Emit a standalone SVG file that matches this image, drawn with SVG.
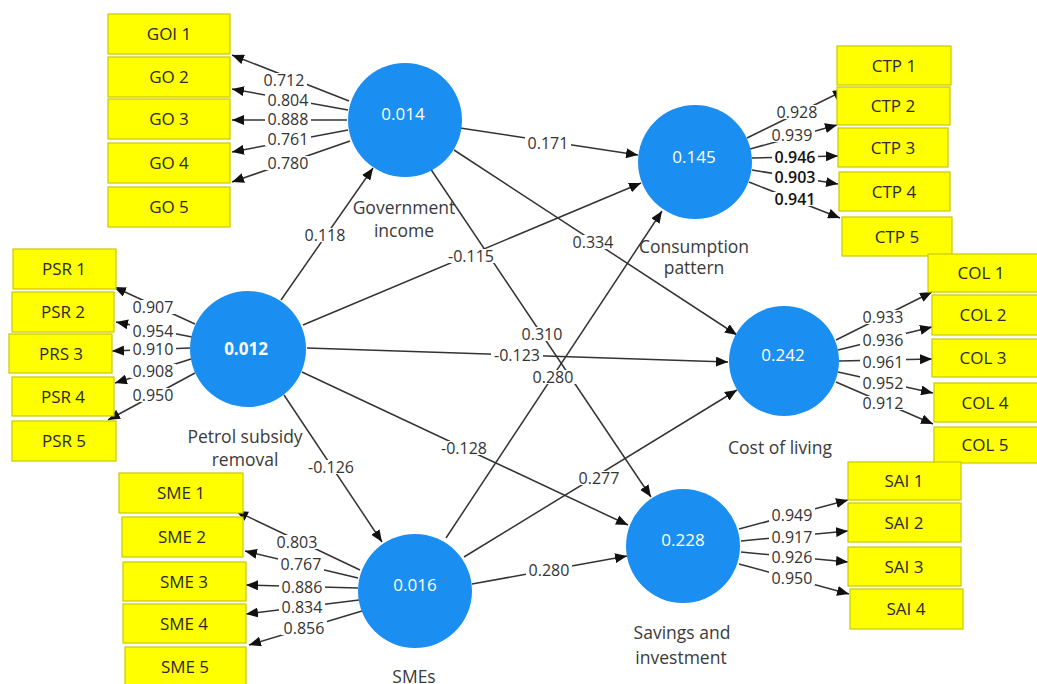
<svg xmlns="http://www.w3.org/2000/svg" width="1037" height="684" viewBox="0 0 1037 684">
  <style>
    .edge { stroke: #333; stroke-width: 1.5; fill: none; marker-end: url(#arrow); }
    .bg rect { fill: #fff; }
    .lbl { font-family: "Open Sans", "Noto Sans", sans-serif; font-size: 16px; fill: #333; text-anchor: middle; }
    .lbl.dark { fill: #111; font-weight: 600; }
    .ind rect { fill: #FFFF00; stroke: #C9C900; stroke-width: 1.2; }
    .ind text { font-family: "Open Sans", "Noto Sans", sans-serif; font-size: 17px; fill: #2a2a2a; text-anchor: middle; }
    .lv circle { fill: #1B8EF2; }
    .lv .r2 { font-family: "Open Sans", "Noto Sans", sans-serif; font-size: 17px; fill: #fff; text-anchor: middle; }
    .lv .name { font-family: "Open Sans", "Noto Sans", sans-serif; font-size: 17.5px; fill: #3a3a3a; text-anchor: middle; }
  </style>
  <defs>
    <marker id="arrow" markerUnits="userSpaceOnUse" markerWidth="12" markerHeight="10" refX="12" refY="5" orient="auto">
      <path d="M0,0 L12,5 L0,10 Z" fill="#111"/>
    </marker>
  </defs>
  <rect width="1037" height="684" fill="#fff"/>

  <g id="connectors">
    <!-- structural paths -->
    <line class="edge" x1="460" y1="128" x2="638" y2="155"/>
    <line class="edge" x1="454" y1="150" x2="737" y2="335"/>
    <line class="edge" x1="430" y1="168" x2="651" y2="497"/>
    <line class="edge" x1="281" y1="300" x2="373" y2="168"/>
    <line class="edge" x1="303" y1="325" x2="641" y2="183"/>
    <line class="edge" x1="307" y1="348" x2="728" y2="362"/>
    <line class="edge" x1="302" y1="372" x2="628" y2="525"/>
    <line class="edge" x1="284" y1="395" x2="382" y2="542"/>
    <line class="edge" x1="446" y1="538" x2="662" y2="211"/>
    <line class="edge" x1="464" y1="557" x2="737" y2="390"/>
    <line class="edge" x1="472" y1="584" x2="627" y2="556"/>
    <!-- Government income loadings -->
    <line class="edge" x1="349" y1="101" x2="232" y2="55"/>
    <line class="edge" x1="348" y1="110" x2="232" y2="89"/>
    <line class="edge" x1="347" y1="120" x2="232" y2="120"/>
    <line class="edge" x1="348" y1="130" x2="232" y2="152"/>
    <line class="edge" x1="350" y1="141" x2="232" y2="182"/>
    <!-- Petrol subsidy removal loadings -->
    <line class="edge" x1="195" y1="324" x2="114" y2="287"/>
    <line class="edge" x1="192" y1="337" x2="116" y2="322"/>
    <line class="edge" x1="190" y1="348" x2="112" y2="351"/>
    <line class="edge" x1="191" y1="359" x2="115" y2="383"/>
    <line class="edge" x1="195" y1="373" x2="108" y2="420"/>
    <!-- Consumption pattern loadings -->
    <line class="edge" x1="747" y1="138" x2="845" y2="90"/>
    <line class="edge" x1="750" y1="149" x2="837" y2="125"/>
    <line class="edge" x1="752" y1="158" x2="838" y2="156"/>
    <line class="edge" x1="752" y1="170" x2="838" y2="184"/>
    <line class="edge" x1="749" y1="182" x2="840" y2="218"/>
    <!-- Cost of living loadings -->
    <line class="edge" x1="836" y1="340" x2="932" y2="292"/>
    <line class="edge" x1="838" y1="350" x2="932" y2="327"/>
    <line class="edge" x1="839" y1="361" x2="932" y2="359"/>
    <line class="edge" x1="838" y1="372" x2="933" y2="393"/>
    <line class="edge" x1="836" y1="382" x2="933" y2="424"/>
    <!-- Savings and investment loadings -->
    <line class="edge" x1="739" y1="529" x2="848" y2="500"/>
    <line class="edge" x1="741" y1="541" x2="848" y2="531"/>
    <line class="edge" x1="741" y1="552" x2="848" y2="562"/>
    <line class="edge" x1="739" y1="564" x2="849" y2="594"/>
    <!-- SMEs loadings -->
    <line class="edge" x1="360" y1="570" x2="236" y2="511"/>
    <line class="edge" x1="358" y1="578" x2="245" y2="551"/>
    <line class="edge" x1="358" y1="588" x2="246" y2="585"/>
    <line class="edge" x1="359" y1="600" x2="246" y2="614"/>
    <line class="edge" x1="362" y1="611" x2="249" y2="645"/>

    <!-- white backing behind coefficient labels -->
    <g class="bg">
      <rect x="525" y="136" width="46" height="14"/>
      <rect x="570" y="235" width="46" height="14"/>
      <rect x="519" y="327" width="46" height="14"/>
      <rect x="302" y="228" width="46" height="14"/>
      <rect x="445" y="249" width="52" height="14"/>
      <rect x="491" y="348" width="52" height="14"/>
      <rect x="438" y="441" width="52" height="14"/>
      <rect x="305" y="460" width="52" height="14"/>
      <rect x="530" y="370" width="46" height="14"/>
      <rect x="576" y="471" width="46" height="14"/>
      <rect x="526" y="563" width="46" height="14"/>

      <rect x="261" y="73" width="46" height="14"/>
      <rect x="265" y="93" width="46" height="14"/>
      <rect x="265" y="112" width="46" height="14"/>
      <rect x="265" y="132" width="46" height="14"/>
      <rect x="265" y="156" width="46" height="14"/>

      <rect x="130" y="300" width="46" height="14"/>
      <rect x="130" y="324" width="46" height="14"/>
      <rect x="130" y="342" width="46" height="14"/>
      <rect x="130" y="364" width="46" height="14"/>
      <rect x="130" y="388" width="46" height="14"/>

      <rect x="774" y="105" width="46" height="14"/>
      <rect x="769" y="128" width="46" height="14"/>
      <rect x="772" y="150" width="46" height="14"/>
      <rect x="772" y="170" width="46" height="14"/>
      <rect x="772" y="192" width="46" height="14"/>

      <rect x="860" y="310" width="46" height="14"/>
      <rect x="860" y="333" width="46" height="14"/>
      <rect x="860" y="355" width="46" height="14"/>
      <rect x="860" y="376" width="46" height="14"/>
      <rect x="860" y="396" width="46" height="14"/>

      <rect x="769" y="508" width="46" height="14"/>
      <rect x="769" y="530" width="46" height="14"/>
      <rect x="769" y="550" width="46" height="14"/>
      <rect x="769" y="571" width="46" height="14"/>

      <rect x="274" y="535" width="46" height="14"/>
      <rect x="278" y="557" width="46" height="14"/>
      <rect x="279" y="580" width="46" height="14"/>
      <rect x="279" y="600" width="46" height="14"/>
      <rect x="281" y="621" width="46" height="14"/>
    </g>

    <!-- path coefficients -->
    <text class="lbl" x="548" y="149">0.171</text>
    <text class="lbl" x="593" y="248">0.334</text>
    <text class="lbl" x="542" y="340">0.310</text>
    <text class="lbl" x="325" y="241">0.118</text>
    <text class="lbl" x="471" y="262">-0.115</text>
    <text class="lbl" x="517" y="361">-0.123</text>
    <text class="lbl" x="464" y="454">-0.128</text>
    <text class="lbl" x="331" y="473">-0.126</text>
    <text class="lbl" x="553" y="383">0.280</text>
    <text class="lbl" x="599" y="484">0.277</text>
    <text class="lbl" x="549" y="576">0.280</text>

    <!-- outer loadings -->
    <text class="lbl" x="284" y="86">0.712</text>
    <text class="lbl" x="288" y="106">0.804</text>
    <text class="lbl" x="288" y="125">0.888</text>
    <text class="lbl" x="288" y="145">0.761</text>
    <text class="lbl" x="288" y="169">0.780</text>

    <text class="lbl" x="153" y="313">0.907</text>
    <text class="lbl" x="153" y="337">0.954</text>
    <text class="lbl" x="153" y="355">0.910</text>
    <text class="lbl" x="153" y="377">0.908</text>
    <text class="lbl" x="153" y="401">0.950</text>

    <text class="lbl" x="797" y="118">0.928</text>
    <text class="lbl" x="792" y="141">0.939</text>
    <text class="lbl dark" x="795" y="163">0.946</text>
    <text class="lbl dark" x="795" y="183">0.903</text>
    <text class="lbl dark" x="795" y="205">0.941</text>

    <text class="lbl" x="883" y="323">0.933</text>
    <text class="lbl" x="883" y="346">0.936</text>
    <text class="lbl" x="883" y="368">0.961</text>
    <text class="lbl" x="883" y="389">0.952</text>
    <text class="lbl" x="883" y="409">0.912</text>

    <text class="lbl" x="792" y="521">0.949</text>
    <text class="lbl" x="792" y="543">0.917</text>
    <text class="lbl" x="792" y="563">0.926</text>
    <text class="lbl" x="792" y="584">0.950</text>

    <text class="lbl" x="297" y="548">0.803</text>
    <text class="lbl" x="301" y="570">0.767</text>
    <text class="lbl" x="302" y="593">0.886</text>
    <text class="lbl" x="302" y="613">0.834</text>
    <text class="lbl" x="304" y="634">0.856</text>
  </g>

  <!-- indicator boxes -->
  <g id="GOI1" class="ind"><rect x="108" y="14" width="122" height="40"/><text x="169" y="40">GOI 1</text></g>
  <g id="GO2" class="ind"><rect x="108" y="57" width="122" height="40"/><text x="169" y="83">GO 2</text></g>
  <g id="GO3" class="ind"><rect x="108" y="99" width="122" height="40"/><text x="169" y="125">GO 3</text></g>
  <g id="GO4" class="ind"><rect x="108" y="143" width="122" height="40"/><text x="169" y="169">GO 4</text></g>
  <g id="GO5" class="ind"><rect x="108" y="187" width="122" height="40"/><text x="169" y="213">GO 5</text></g>

  <g id="PSR1" class="ind"><rect x="13" y="249" width="103" height="40"/><text x="64" y="275">PSR 1</text></g>
  <g id="PSR2" class="ind"><rect x="12" y="292" width="102" height="40"/><text x="63" y="318">PSR 2</text></g>
  <g id="PRS3" class="ind"><rect x="9" y="334" width="103" height="39"/><text x="61" y="360">PRS 3</text></g>
  <g id="PSR4" class="ind"><rect x="12" y="377" width="102" height="39"/><text x="63" y="403">PSR 4</text></g>
  <g id="PSR5" class="ind"><rect x="12" y="421" width="104" height="40"/><text x="64" y="447">PSR 5</text></g>

  <g id="CTP1" class="ind"><rect x="837" y="46" width="114" height="39"/><text x="894" y="72">CTP 1</text></g>
  <g id="CTP2" class="ind"><rect x="837" y="87" width="113" height="38"/><text x="893" y="112">CTP 2</text></g>
  <g id="CTP3" class="ind"><rect x="838" y="128" width="110" height="39"/><text x="893" y="154">CTP 3</text></g>
  <g id="CTP4" class="ind"><rect x="839" y="172" width="111" height="39"/><text x="894" y="198">CTP 4</text></g>
  <g id="CTP5" class="ind"><rect x="842" y="217" width="110" height="39"/><text x="897" y="243">CTP 5</text></g>

  <g id="COL1" class="ind"><rect x="928" y="254" width="110" height="38"/><text x="981" y="279">COL 1</text></g>
  <g id="COL2" class="ind"><rect x="932" y="295" width="106" height="40"/><text x="983" y="321">COL 2</text></g>
  <g id="COL3" class="ind"><rect x="932" y="339" width="106" height="38"/><text x="983" y="364">COL 3</text></g>
  <g id="COL4" class="ind"><rect x="934" y="383" width="104" height="39"/><text x="985" y="409">COL 4</text></g>
  <g id="COL5" class="ind"><rect x="934" y="427" width="104" height="36"/><text x="985" y="451">COL 5</text></g>

  <g id="SAI1" class="ind"><rect x="848" y="462" width="113" height="38"/><text x="904" y="487">SAI 1</text></g>
  <g id="SAI2" class="ind"><rect x="848" y="503" width="113" height="39"/><text x="904" y="529">SAI 2</text></g>
  <g id="SAI3" class="ind"><rect x="848" y="547" width="113" height="39"/><text x="904" y="573">SAI 3</text></g>
  <g id="SAI4" class="ind"><rect x="850" y="589" width="113" height="40"/><text x="906" y="615">SAI 4</text></g>

  <g id="SME1" class="ind"><rect x="119" y="473" width="124" height="40"/><text x="181" y="499">SME 1</text></g>
  <g id="SME2" class="ind"><rect x="122" y="517" width="121" height="40"/><text x="182" y="543">SME 2</text></g>
  <g id="SME3" class="ind"><rect x="123" y="562" width="123" height="39"/><text x="184" y="588">SME 3</text></g>
  <g id="SME4" class="ind"><rect x="123" y="604" width="123" height="39"/><text x="184" y="630">SME 4</text></g>
  <g id="SME5" class="ind"><rect x="125" y="647" width="121" height="40"/><text x="185" y="673">SME 5</text></g>

  <!-- latent variables -->
  <g id="government-income" class="lv">
    <circle cx="405" cy="120" r="57"/>
    <text class="r2" x="403" y="120">0.014</text>
    <text class="name" x="404" y="214">Government</text>
    <text class="name" x="404" y="237">income</text>
  </g>
  <g id="consumption-pattern" class="lv">
    <circle cx="695" cy="162" r="57"/>
    <text class="r2" x="694" y="163">0.145</text>
    <text class="name" x="694" y="253">Consumption</text>
    <text class="name" x="694" y="274">pattern</text>
  </g>
  <g id="petrol-subsidy-removal" class="lv">
    <circle cx="248" cy="349" r="58"/>
    <text class="r2" x="246" y="355" font-weight="bold">0.012</text>
    <text class="name" x="245" y="443">Petrol subsidy</text>
    <text class="name" x="245" y="466">removal</text>
  </g>
  <g id="cost-of-living" class="lv">
    <circle cx="784" cy="361" r="55"/>
    <text class="r2" x="783" y="361">0.242</text>
    <text class="name" x="780" y="454">Cost of living</text>
  </g>
  <g id="smes" class="lv">
    <circle cx="415" cy="591" r="57"/>
    <text class="r2" x="415" y="591">0.016</text>
    <text class="name" x="414" y="683">SMEs</text>
  </g>
  <g id="savings-and-investment" class="lv">
    <circle cx="683" cy="546" r="57"/>
    <text class="r2" x="683" y="546">0.228</text>
    <text class="name" x="682" y="639">Savings and</text>
    <text class="name" x="681" y="664">investment</text>
  </g>
</svg>
